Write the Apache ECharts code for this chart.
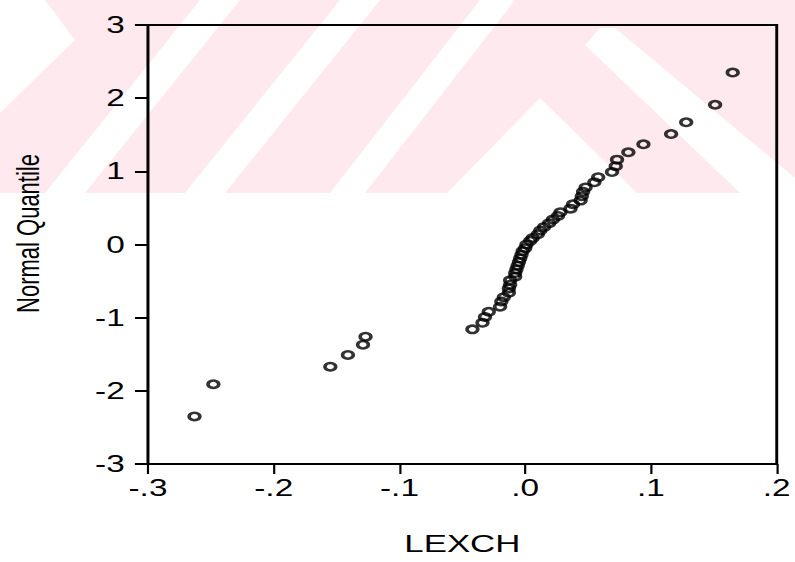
<!DOCTYPE html>
<html><head><meta charset="utf-8">
<script src="https://cdn.jsdelivr.net/npm/echarts@6/dist/echarts.min.js"></script>
<style>
html,body{margin:0;padding:0;background:#fff;overflow:hidden;}
#wrap{width:795px;height:562px;overflow:hidden;position:relative;background:#fff;}
#chart{width:548px;height:562px;transform:scaleX(1.45073);transform-origin:0 0;}
</style></head><body>
<div id="wrap"><div id="chart"></div></div>
<script>
// Tick labels
const xTickLabels = ['-.3', '-.2', '-.1', '.0', '.1', '.2'];
const yTickLabels = ['-3', '-2', '-1', '0', '1', '2', '3'];

// Data (sorted sample values of LEXCH and their normal quantiles)
const lexch = [-0.263, -0.248, -0.155, -0.141, -0.129, -0.127, -0.042, -0.034, -0.032, -0.029,
  -0.020, -0.019, -0.017, -0.013, -0.013, -0.012, -0.012, -0.008, -0.008, -0.007,
  -0.006, -0.005, -0.004, -0.003, -0.002, 0.000, 0.001, 0.004, 0.006, 0.010,
  0.012, 0.015, 0.019, 0.022, 0.026, 0.028, 0.036, 0.038, 0.044, 0.045,
  0.046, 0.048, 0.055, 0.058, 0.069, 0.072, 0.073, 0.082, 0.094, 0.116,
  0.128, 0.151, 0.165];
const normalQuantile = [-2.35, -1.91, -1.67, -1.51, -1.37, -1.26, -1.16, -1.07, -0.99, -0.92,
  -0.85, -0.78, -0.72, -0.66, -0.60, -0.55, -0.49, -0.44, -0.39, -0.34,
  -0.29, -0.24, -0.19, -0.14, -0.09, -0.05, 0.00, 0.05, 0.09, 0.14,
  0.19, 0.24, 0.29, 0.34, 0.39, 0.44, 0.49, 0.55, 0.60, 0.66,
  0.72, 0.78, 0.85, 0.92, 0.99, 1.07, 1.16, 1.26, 1.37, 1.51,
  1.67, 1.91, 2.35];

const S = 795 / 548;
const FONT = 'Liberation Sans, Arial, sans-serif';
const pink = '#fde9ee';
// decorative background watermark (screen px)
const wmShapes = [
  [[0,0],[45,0],[75,40],[0,113]],
  [[200,0],[240,0],[85,193],[45,193]],
  [[340,0],[380,0],[225,193],[185,193]],
  [[480,0],[515,0],[365,193],[330,193]],
  [[540,98],[637,193],[447,193]],
  [[585,45],[600,28],[615,28],[795,178],[795,193],[740,193]]
];
const graphic = [{ type: 'rect', silent: true, z: -20, shape: { x: 0, y: 0, width: 548, height: 193 }, style: { fill: pink } }]
  .concat(wmShapes.map(p => ({ type: 'polygon', silent: true, z: -19,
    shape: { points: p.map(([x, y]) => [x / S, y]) }, style: { fill: '#ffffff' } })));

const chart = echarts.init(document.getElementById('chart'), null, { renderer: 'svg' });
chart.setOption({
  animation: false,
  backgroundColor: 'transparent',
  graphic: graphic,
  grid: { left: 98, right: 7, top: 25, bottom: 98, show: true, borderColor: '#000', borderWidth: 2, backgroundColor: 'transparent' },
  xAxis: {
    type: 'value', min: -0.3, max: 0.2, interval: 0.1,
    name: 'LEXCH', nameLocation: 'middle', nameGap: 68,
    nameTextStyle: { fontFamily: FONT, fontSize: 24, color: '#000' },
    axisLine: { show: true, onZero: false, lineStyle: { color: '#000', width: 2 } },
    axisTick: { show: true, inside: false, length: 10, lineStyle: { color: '#000', width: 1.5 } },
    axisLabel: { margin: 12, fontFamily: FONT, fontSize: 23, color: '#000',
      formatter: v => xTickLabels[Math.round((v + 0.3) / 0.1)] },
    splitLine: { show: false }
  },
  yAxis: {
    type: 'value', min: -3, max: 3, interval: 1,
    name: 'Normal Quantile', nameLocation: 'middle', nameGap: 72, nameRotate: 90,
    nameTextStyle: { fontFamily: FONT, fontSize: 22, color: '#000', padding: [0, 0, 0, 22] },
    axisLine: { show: true, onZero: false, lineStyle: { color: '#000', width: 1.5 } },
    axisTick: { show: true, inside: false, length: 9, lineStyle: { color: '#000', width: 2 } },
    axisLabel: { margin: 16, fontFamily: FONT, fontSize: 23, color: '#000',
      formatter: v => yTickLabels[Math.round(v + 3)] },
    splitLine: { show: false }
  },
  series: [{
    type: 'scatter',
    data: lexch.map((x, i) => [x, normalQuantile[i]]),
    symbol: 'circle', symbolSize: 7.4,
    itemStyle: { color: 'rgba(255,255,255,0)', borderColor: '#000', borderWidth: 2.5 },
    emphasis: { disabled: true }
  }]
});
</script>
</body></html>
